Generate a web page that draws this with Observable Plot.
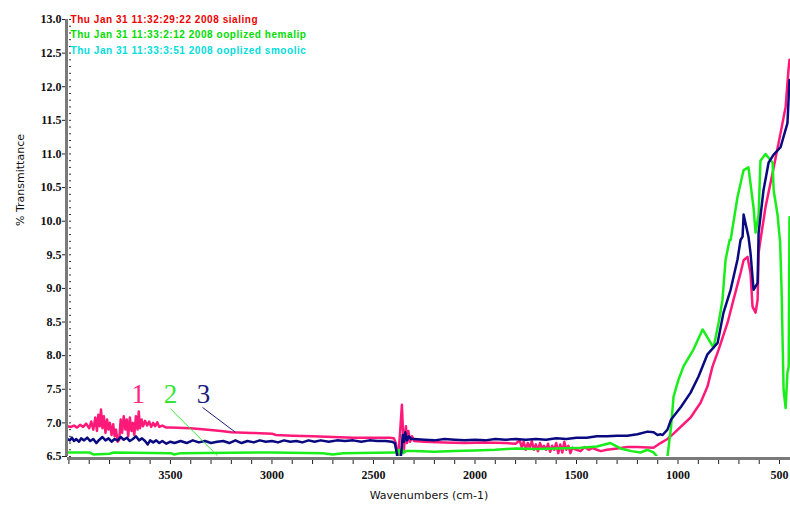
<!DOCTYPE html>
<html><head><meta charset="utf-8">
<script src="https://cdn.jsdelivr.net/npm/d3@7"></script>
<script src="https://cdn.jsdelivr.net/npm/@observablehq/plot@0.6"></script>
<style>body{margin:0;background:#fff;}</style>
</head><body><div id="chart"></div>
<script>
// ---------- data ----------
const xDomain = [4007, 446];
const yDomain = [6.5, 13.0];
const xTicks = [3500, 3000, 2500, 2000, 1500, 1000, 500];
const yTicks = [6.5, 7.0, 7.5, 8.0, 8.5, 9.0, 9.5, 10.0, 10.5, 11.0, 11.5, 12.0, 12.5, 13.0];

// Series 1 (pink)
const pinkWn = [4007,3990,3975,3960,3945,3930,3915,3900,3890,3880,3870,3862,3855,3848,3842,3835,3828,3820,3812,3805,3798,3790,3782,3775,3768,3760,3752,3745,3738,3730,3722,3715,3708,3700,3692,3685,3678,3670,3662,3656,3650,3642,3635,3625,3615,3605,3595,3585,3575,3565,3555,3540,3520,3500,3400,3330,3250,3200,3100,3000,2980,2900,2800,2700,2600,2500,2420,2400,2390,2382,2375,2368,2360,2355,2350,2345,2340,2335,2328,2320,2310,2300,2250,2150,2050,1950,1850,1800,1780,1770,1760,1750,1740,1730,1720,1710,1700,1690,1680,1670,1660,1650,1640,1630,1620,1610,1600,1590,1580,1570,1560,1550,1540,1530,1520,1500,1480,1460,1440,1420,1400,1380,1350,1300,1250,1200,1121,1086,1052,1022,938,889,855,830,800,756,727,692,677,658,643,633,618,608,603,594,569,534,495,470,456,451];
const pinkT  = [6.95,6.94,6.96,6.93,6.97,6.94,6.99,6.92,7.02,6.90,7.08,6.88,7.12,6.95,7.20,6.92,7.10,6.85,7.05,6.90,7.00,6.82,6.98,6.80,6.90,6.72,6.75,7.05,6.85,7.10,6.90,7.05,6.80,7.08,6.88,7.00,6.82,7.10,6.90,7.17,6.92,7.05,6.95,7.03,6.96,7.02,6.94,7.00,6.95,7.01,6.94,6.96,6.93,6.93,6.92,6.90,6.88,6.86,6.85,6.84,6.82,6.81,6.80,6.79,6.78,6.78,6.78,6.77,6.70,6.52,6.60,6.90,7.27,6.90,6.60,6.80,6.95,6.70,6.88,6.72,6.80,6.73,6.72,6.71,6.70,6.71,6.70,6.69,6.74,6.64,6.72,6.60,6.70,6.63,6.73,6.60,6.68,6.58,6.70,6.62,6.66,6.60,6.69,6.57,6.66,6.60,6.70,6.55,6.68,6.56,6.72,6.60,6.66,6.55,6.63,6.60,6.58,6.64,6.60,6.63,6.60,6.58,6.60,6.62,6.64,6.64,6.63,6.70,6.76,6.84,7.08,7.30,7.54,7.84,8.09,8.49,8.83,9.23,9.42,9.47,9.23,8.73,8.64,8.83,9.53,9.72,10.21,10.72,11.31,11.70,12.25,12.40];

// Series 2 (green)
const greenWn = [4007,3900,3880,3800,3780,3500,3480,3450,3000,2750,2700,2650,2400,2385,2375,2368,2360,2352,2340,2300,2200,2100,2000,1900,1800,1700,1600,1480,1400,1333,1283,1230,1185,1150,1120,1101,1070,1052,1034,1022,998,973,924,879,825,800,781,766,746,741,707,677,653,628,618,603,594,569,534,529,510,497,490,480,470,461,455,451];
const greenT  = [6.56,6.56,6.53,6.54,6.56,6.55,6.53,6.55,6.56,6.55,6.53,6.55,6.56,6.56,6.60,6.50,6.62,6.55,6.58,6.58,6.57,6.58,6.59,6.60,6.62,6.61,6.62,6.63,6.65,6.70,6.62,6.58,6.56,6.60,6.56,6.49,6.47,6.50,6.95,7.39,7.64,7.84,8.09,8.39,8.12,8.49,8.83,9.42,9.72,9.72,10.36,10.76,10.80,10.20,9.83,10.10,10.90,11.00,10.87,10.46,10.10,9.68,8.98,7.49,7.22,7.75,7.84,10.06];

// Series 3 (navy)
const navyWn = [4007,3995,3985,3975,3965,3950,3940,3925,3910,3895,3880,3865,3850,3835,3820,3805,3790,3775,3760,3745,3730,3715,3700,3685,3670,3655,3640,3625,3612,3600,3585,3570,3555,3540,3520,3500,3480,3450,3420,3390,3360,3330,3300,3270,3240,3210,3180,3150,3120,3090,3060,3030,3000,2970,2940,2910,2880,2850,2820,2790,2760,2720,2680,2640,2600,2560,2520,2480,2440,2410,2395,2385,2378,2368,2362,2356,2350,2343,2335,2325,2315,2300,2250,2200,2150,2100,2050,2000,1950,1900,1850,1800,1750,1700,1650,1600,1550,1500,1450,1400,1350,1300,1250,1200,1150,1120,1101,1086,1076,1052,1034,985,938,899,855,805,776,741,707,692,682,677,653,643,628,608,603,579,554,529,495,461,451];
const navyT  = [6.76,6.74,6.78,6.73,6.76,6.72,6.77,6.74,6.78,6.73,6.76,6.70,6.75,6.79,6.74,6.77,6.72,6.76,6.74,6.79,6.75,6.78,6.73,6.76,6.80,6.74,6.77,6.73,6.68,6.74,6.71,6.74,6.70,6.73,6.69,6.72,6.70,6.73,6.70,6.74,6.71,6.73,6.70,6.72,6.73,6.70,6.74,6.70,6.73,6.71,6.74,6.72,6.73,6.71,6.74,6.72,6.73,6.71,6.74,6.72,6.74,6.72,6.74,6.73,6.74,6.72,6.74,6.73,6.73,6.72,6.70,6.55,6.40,6.40,6.60,6.82,6.72,6.86,6.74,6.80,6.76,6.76,6.75,6.74,6.76,6.75,6.74,6.75,6.74,6.76,6.75,6.76,6.75,6.76,6.75,6.77,6.76,6.78,6.78,6.80,6.80,6.81,6.81,6.83,6.87,6.86,6.82,6.83,6.82,6.90,7.05,7.24,7.45,7.69,8.02,8.19,8.64,8.98,9.43,9.72,9.77,10.10,9.77,9.53,8.98,9.08,9.83,10.46,10.87,10.99,11.10,11.46,12.10];

const legendLines = [
  "Thu Jan 31 11:32:29:22 2008 sialing",
  "Thu Jan 31 11:33:2:12 2008 ooplized hemalip",
  "Thu Jan 31 11:33:3:51 2008 ooplized smoolic"
];
const legendColors = ["#ee0000", "#00dd00", "#00dddd"];

const labelText = ["1", "2", "3"];
const labelWn = [3658, 3500, 3337];
const labelT = [7.42, 7.42, 7.42];
const labelColors = ["#ff2a7f", "#33e633", "#1c1c80"];

const leaderX1 = [3500, 3342];
const leaderY1 = [7.21, 7.23];
const leaderX2 = [3268, 3180];
const leaderY2 = [6.51, 6.86];
const leaderColors = ["#33e633", "#1c1c80"];

// ---------- build ----------
const toRows = (wn, t) => wn.map((w, i) => ({wn: w, t: t[i]}));
const pink = toRows(pinkWn, pinkT);
const green = toRows(greenWn, greenT);
const navy = toRows(navyWn, navyT);
const labels = labelText.map((s, i) => ({s, wn: labelWn[i], t: labelT[i], c: labelColors[i]}));
const leaders = leaderX1.map((x, i) => ({x1: x, y1: leaderY1[i], x2: leaderX2[i], y2: leaderY2[i], c: leaderColors[i]}));
const xMinor = d3.range(600, 4001, 100).filter(v => !xTicks.includes(v));
const yMinor = d3.range(65, 131, 1).map(v => v / 10);

const chart = Plot.plot({
  width: 790, height: 509,
  marginLeft: 67, marginRight: 0, marginTop: 19, marginBottom: 53,
  style: {fontFamily: "'Liberation Serif', 'Times New Roman', serif", fontSize: "12px", fontWeight: "bold", color: "#111", background: "#fff", overflow: "visible"},
  x: {domain: xDomain, label: null},
  y: {domain: yDomain, label: null},
  marks: [
    Plot.axisX({ticks: xMinor, tickSize: 6, tickFormat: () => "", dy: 2, stroke: "#222"}),
    Plot.axisX({ticks: xTicks, tickSize: 6, tickPadding: 6, dy: 2, tickFormat: d => String(d), stroke: "#222"}),
    Plot.axisY({ticks: yMinor, tickSize: 2, dx: 4, tickFormat: () => "", stroke: "#333"}),
    Plot.axisY({ticks: yTicks, tickSize: 5, tickPadding: 1, tickFormat: d => d.toFixed(1), stroke: "#222"}),
    Plot.line(pink, {x: "wn", y: "t", stroke: "#ff1a7a", strokeWidth: 2.5, clip: true}),
    Plot.line(green, {x: "wn", y: "t", stroke: "#1aee1a", strokeWidth: 2.5, clip: true}),
    Plot.line(navy, {x: "wn", y: "t", stroke: "#0a0a80", strokeWidth: 2.5, clip: true}),
    Plot.ruleX([xDomain[0]], {stroke: "#7a7a7a", strokeWidth: 3, dx: -1}),
    Plot.ruleY([yDomain[0]], {stroke: "#7a7a7a", strokeWidth: 3, dy: 2}),
    Plot.link(leaders, {x1: "x1", y1: "y1", x2: "x2", y2: "y2", stroke: "c", strokeWidth: 1}),
    Plot.text(labels, {x: "wn", y: "t", text: "s", fill: "c", fontSize: 27, fontWeight: "normal", fontFamily: "'Liberation Serif', serif", lineAnchor: "middle"}),
    ...legendLines.map((s, i) => Plot.text([s], {frameAnchor: "top-left", dx: 3, dy: -4 + i * 15.5, fill: legendColors[i], fontSize: 10, fontWeight: "bold", fontFamily: "'Liberation Sans', Arial, sans-serif", lineAnchor: "top", textAnchor: "start"})),
    Plot.text(["Wavenumbers (cm-1)"], {frameAnchor: "bottom", dy: 42, fontSize: 11, fontWeight: "normal", fontFamily: "'DejaVu Sans', sans-serif", fill: "#111"}),
    Plot.text(["% Transmittance"], {frameAnchor: "left", dx: -47, dy: -12, rotate: -90, fontSize: 11, fontWeight: "normal", fontFamily: "'DejaVu Sans', sans-serif", fill: "#111"})
  ]
});
// widen the legend lettering a little, as in the instrument printout
d3.select(chart).selectAll("text").filter(function () { return (this.textContent || "").startsWith("Thu Jan"); })
  .style("letter-spacing", "0.55px");
document.getElementById("chart").appendChild(chart);
</script>
</body></html>
